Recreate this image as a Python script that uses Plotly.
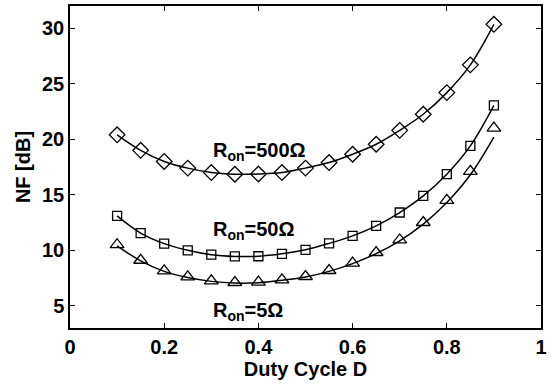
import plotly.graph_objects as go

duty = [0.1, 0.15, 0.2, 0.25, 0.3, 0.35, 0.4, 0.45, 0.5, 0.55, 0.6, 0.65, 0.7, 0.75, 0.8, 0.85, 0.9]
nf_500 = [20.4, 19.0, 18.0, 17.4, 17.0, 16.85, 16.87, 17.0, 17.4, 17.9, 18.65, 19.55, 20.8, 22.25, 24.2, 26.7, 30.35]
nf_50 = [13.1, 11.55, 10.6, 10.0, 9.6, 9.45, 9.46, 9.68, 10.04, 10.62, 11.3, 12.2, 13.4, 14.9, 16.85, 19.4, 23.05]
nf_5 = [10.5, 9.1, 8.15, 7.6, 7.25, 7.1, 7.13, 7.34, 7.64, 8.18, 8.84, 9.8, 10.93, 12.5, 14.5, 17.1, 21.0]
fit_5 = [10.4, 9.05, 8.1, 7.55, 7.2, 7.05, 7.08, 7.3, 7.6, 8.1, 8.8, 9.7, 10.85, 12.35, 14.3, 16.8, 20.2]

labels = ["R<sub>on</sub>=500Ω", "R<sub>on</sub>=50Ω", "R<sub>on</sub>=5Ω"]
label_x = [0.3, 0.3, 0.3]
label_y = [18.9, 11.8, 4.5]

FONT = "Liberation Sans, Arial, sans-serif"

fig = go.Figure()
line_style = dict(color="black", width=1.5, shape="spline", smoothing=1.0)

fig.add_trace(go.Scatter(x=duty, y=nf_500, mode="lines", line=line_style, showlegend=False))
fig.add_trace(go.Scatter(x=duty, y=nf_50, mode="lines", line=line_style, showlegend=False))
fig.add_trace(go.Scatter(x=duty, y=fit_5, mode="lines", line=line_style, showlegend=False))

fig.add_trace(go.Scatter(x=duty, y=nf_500, mode="markers",
                         marker=dict(symbol="diamond-open", size=12, color="black", line=dict(width=1.3)),
                         showlegend=False))
fig.add_trace(go.Scatter(x=duty, y=nf_50, mode="markers",
                         marker=dict(symbol="square-open", size=9, color="black", line=dict(width=1.3)),
                         showlegend=False))
fig.add_trace(go.Scatter(x=duty, y=nf_5, mode="markers",
                         marker=dict(symbol="triangle-up-open", size=12, color="black", line=dict(width=1.3)),
                         showlegend=False))

for t, xx, yy in zip(labels, label_x, label_y):
    fig.add_annotation(x=xx, y=yy, text=t, showarrow=False, xanchor="left", yanchor="middle",
                       font=dict(family=FONT, size=20, color="black", weight="bold"))

axis_common = dict(showline=True, linecolor="black", linewidth=1.5, mirror="ticks",
                   ticks="inside", ticklen=5, tickwidth=1.2, tickcolor="black",
                   showgrid=False, zeroline=False,
                   tickfont=dict(family=FONT, size=20, color="black", weight="bold"))

fig.update_xaxes(range=[0, 1], tickvals=[0, 0.2, 0.4, 0.6, 0.8, 1], ticktext=["0", "0.2", "0.4", "0.6", "0.8", "1"],
                 title=dict(text="Duty Cycle D", standoff=4,
                            font=dict(family=FONT, size=20, color="black", weight="bold")),
                 **axis_common)
fig.update_yaxes(range=[3, 32], tickvals=[5, 10, 15, 20, 25, 30],
                 title=dict(text="NF [dB]", standoff=6,
                            font=dict(family=FONT, size=20, color="black", weight="bold")),
                 **axis_common)

fig.update_layout(width=551, height=386, margin=dict(l=70, r=4, t=6, b=58),
                  paper_bgcolor="white", plot_bgcolor="white")

fig.write_html("out.html")
